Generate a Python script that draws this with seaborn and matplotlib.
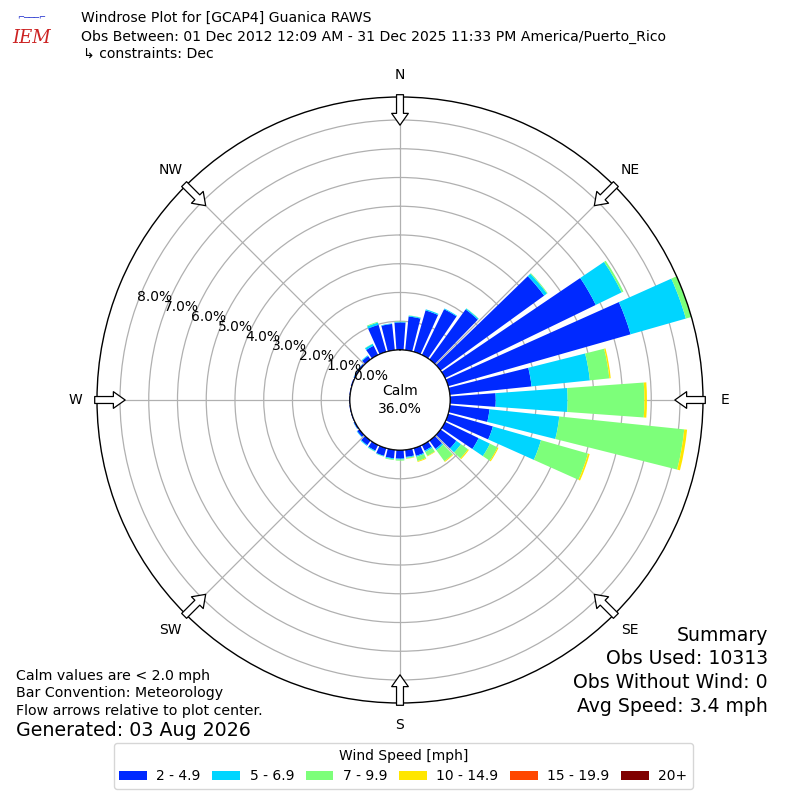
import numpy as np
import pandas as pd
import matplotlib
matplotlib.use("Agg")
import matplotlib.pyplot as plt
import seaborn as sns

# wind direction sectors (deg, meteorological) and speed bins
directions = np.arange(0, 360, 10)
speed_labels = ["2 - 4.9", "5 - 6.9", "7 - 9.9", "10 - 14.9", "15 - 19.9", "20+"]

# percent of all obs, one value per 10 deg sector (0, 10, ... 350)
spd_2_5 = [0.96, 1.18, 1.50, 1.77, 2.15, 4.45, 5.83, 6.60, 2.86, 1.59, 1.39, 1.62,
           1.30, 0.68, 0.36, 0.22, 0.28, 0.25, 0.30, 0.30, 0.28, 0.22, 0.20, 0.10,
           0.05, 0.03, 0.03, 0.03, 0.03, 0.04, 0.05, 0.06, 0.15, 0.36, 0.98, 0.92]
spd_5_7 = [0.02, 0.03, 0.04, 0.03, 0.04, 0.12, 1.00, 2.00, 2.04, 2.50, 2.44, 1.74,
           0.44, 0.20, 0.06, 0.05, 0.04, 0.03, 0.03, 0.03, 0.02, 0.03, 0.03, 0.02,
           0.01, 0.00, 0.00, 0.00, 0.00, 0.00, 0.01, 0.01, 0.03, 0.07, 0.08, 0.02]
spd_7_10 = [0.01, 0.01, 0.00, 0.00, 0.01, 0.03, 0.07, 0.20, 0.68, 2.67, 4.37, 1.70,
            0.29, 0.30, 0.47, 0.15, 0.15, 0.03, 0.04, 0.03, 0.01, 0.01, 0.00, 0.00,
            0.00, 0.00, 0.00, 0.00, 0.00, 0.00, 0.00, 0.00, 0.00, 0.01, 0.03, 0.00]
spd_10_15 = [0.00, 0.00, 0.00, 0.00, 0.00, 0.00, 0.00, 0.00, 0.05, 0.09, 0.10, 0.06,
             0.04, 0.04, 0.03, 0.02, 0.03, 0.01, 0.00, 0.00, 0.00, 0.00, 0.00, 0.00,
             0.00, 0.00, 0.00, 0.00, 0.00, 0.00, 0.00, 0.00, 0.00, 0.00, 0.00, 0.00]
spd_15_20 = [0.0] * 36
spd_20p = [0.0] * 36

calm_pct = 36.0
ring_ticks = [0, 1, 2, 3, 4, 5, 6, 7, 8]
compass = ["N", "NE", "E", "SE", "S", "SW", "W", "NW"]
compass_deg = [0, 45, 90, 135, 180, 225, 270, 315]

df = pd.DataFrame({"dir": directions, speed_labels[0]: spd_2_5, speed_labels[1]: spd_5_7,
                   speed_labels[2]: spd_7_10, speed_labels[3]: spd_10_15,
                   speed_labels[4]: spd_15_20, speed_labels[5]: spd_20p})

sns.set_style("white")
plt.rcParams["font.family"] = ["DejaVu Sans"]
plt.rcParams["text.color"] = "black"
palette = sns.color_palette(list(plt.get_cmap("jet")(np.arange(1, 7) / 6.0)))

fig = plt.figure(figsize=(8, 8), dpi=100)
ax = fig.add_axes([0.12125, 0.12125, 0.7575, 0.7575], projection="polar")
ax.set_theta_zero_location("N")
ax.set_theta_direction(-1)

rmax = df[speed_labels].sum(axis=1).max()
calm_r = 1.74  # radius of the calm hole in percent units
ax.set_rorigin(-calm_r)
ax.set_ylim(0, rmax)

theta = np.radians(df["dir"].values)
width = np.radians(8.2)
bottom = np.zeros(len(df))
for lab, col in zip(speed_labels, palette):
    vals = df[lab].values
    ax.bar(theta, vals, width=width, bottom=bottom, color=col, linewidth=0,
           label=lab, zorder=1)
    bottom = bottom + vals

# grid
ax.set_yticks(ring_ticks[1:])
ax.set_yticklabels([])
ax.set_xticks(np.radians(compass_deg))
ax.set_xticklabels([])
ax.grid(True, color="#b0b0b0", lw=0.9)
ax.spines["polar"].set_color("black")
ax.spines["polar"].set_linewidth(1.0)
ax.spines["inner"].set_visible(False)

# calm circle
circ = np.linspace(0, 2 * np.pi, 361)
ax.plot(circ, np.zeros_like(circ), color="black", lw=1.0, zorder=6)
ax.text(0.5, 0.5, f"Calm\n{calm_pct:.1f}%", transform=ax.transAxes,
        ha="center", va="center", fontsize=10, linespacing=1.3, zorder=7)

# radial labels
for k in ring_ticks:
    ax.text(np.radians(290), k, f"{k:.1f}%", ha="left", va="bottom",
            fontsize=10, zorder=7)

# compass labels and flow arrows
for name, deg in zip(compass, compass_deg):
    t = np.radians(deg)
    ax.text(t, rmax + 0.76, name, ha="center", va="center", fontsize=10)
    ax.annotate("", xy=(t, rmax - 0.98), xytext=(t, rmax + 0.08),
                arrowprops=dict(facecolor="white", edgecolor="black", lw=0.9,
                                width=5, headwidth=12, headlength=8.5, shrink=0),
                zorder=8, annotation_clip=False)

# header
fig.text(0.101, 0.9775, "Windrose Plot for [GCAP4] Guanica RAWS",
         fontsize=10.1, va="center")
fig.text(0.101, 0.954,
         "Obs Between: 01 Dec 2012 12:09 AM - 31 Dec 2025 11:33 PM America/Puerto_Rico",
         fontsize=10.1, va="center")
fig.text(0.104, 0.9325, "\u21b3 constraints: Dec", fontsize=10.1, va="center")
fig.text(0.04, 0.952, "IEM", fontsize=13, color="#cc2222", family="serif",
         style="italic", ha="center", va="center")
fig.text(0.04, 0.978, "\u2310\u2500\u2500\u2500\u2310", fontsize=6, color="#1a2acc",
         ha="center", va="center")

# footer notes
fig.text(0.02, 0.155, "Calm values are < 2.0 mph", fontsize=10.2, va="center")
fig.text(0.02, 0.134, "Bar Convention: Meteorology", fontsize=10.2, va="center")
fig.text(0.02, 0.111, "Flow arrows relative to plot center.", fontsize=10.2, va="center")
fig.text(0.02, 0.0875, "Generated: 03 Aug 2026", fontsize=13.7, va="center")

summary = ["Summary", "Obs Used: 10313", "Obs Without Wind: 0", "Avg Speed: 3.4 mph"]
for i, line in enumerate(summary):
    fig.text(0.96, 0.206 - i * 0.0295, line, fontsize=13.6, ha="right", va="center")

handles, labels = ax.get_legend_handles_labels()
fig.legend(handles, labels, title="Wind Speed [mph]", ncol=6, loc="center",
           bbox_to_anchor=(0.504, 0.0425), fontsize=10, title_fontsize=10,
           handlelength=2.0, handleheight=0.65, handletextpad=0.67,
           columnspacing=0.84, frameon=True, edgecolor="#cccccc", fancybox=True)

fig.savefig("out.png", dpi=100)
